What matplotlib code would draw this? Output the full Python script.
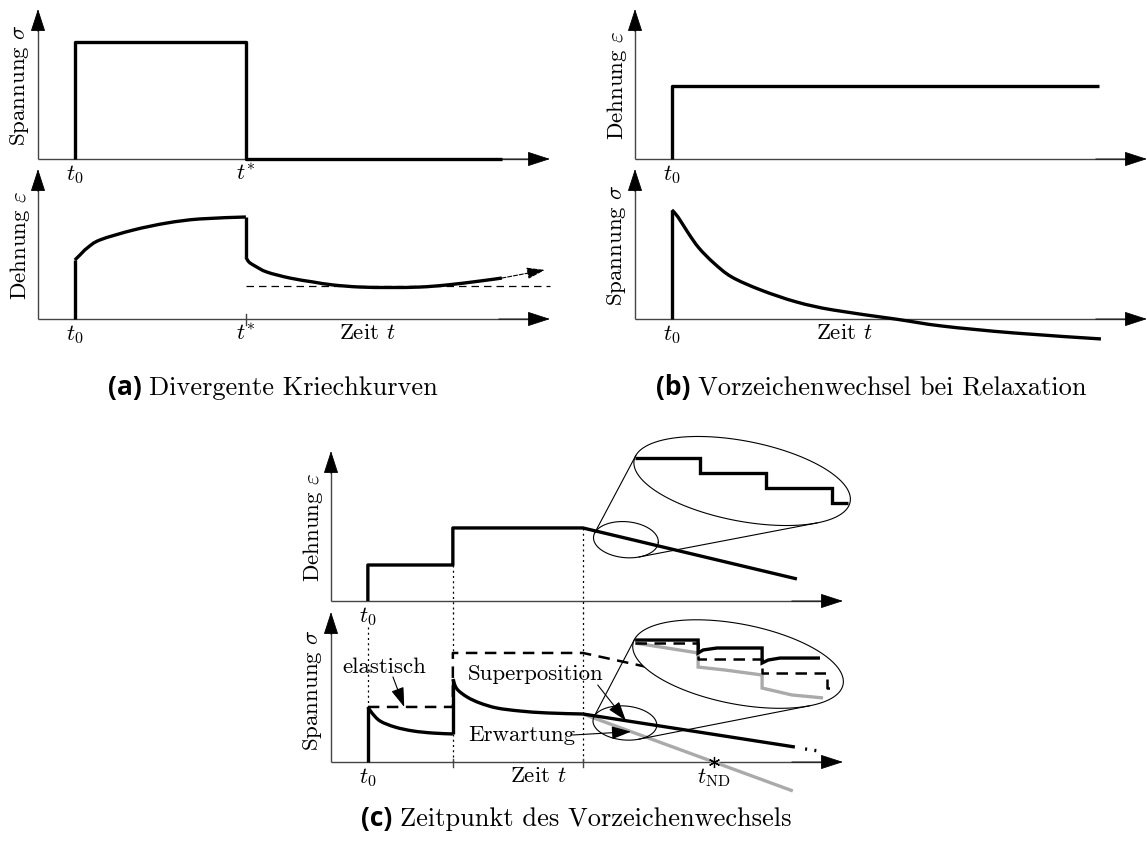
import numpy as np
import matplotlib
matplotlib.use("Agg")
import matplotlib.pyplot as plt
from matplotlib.path import Path
from matplotlib.patches import PathPatch

W, H = 1147, 841
plt.rcParams["mathtext.fontset"] = "cm"
plt.rcParams["font.family"] = "cmr10"
plt.rcParams["axes.formatter.use_mathtext"] = True

FS = 16.5        # axis labels
FS_CAP = 19      # sub-captions
LW = 2.4         # curves
AX_COLOR = "#444444"
GREY = "#aaaaaa"

# ---------------- data (schematic units) ----------------
# (a) creep under a rectangular stress pulse
a_t0, a_tstar, a_tend = 0.72, 4.06, 9.06
a_stress = 7.8
a_creep_t = [0.72, 0.82, 0.96, 1.21, 1.86, 2.52, 3.16, 4.06]
a_creep_eps = [3.93, 4.27, 4.73, 5.27, 5.93, 6.40, 6.67, 6.80]
a_recov_t = [4.06, 4.12, 4.24, 4.47, 4.92, 5.37, 5.76, 6.29, 6.88, 7.46, 7.99, 8.63, 9.06]
a_recov_eps = [4.13, 3.80, 3.53, 3.13, 2.73, 2.47, 2.27, 2.13, 2.10, 2.13, 2.27, 2.53, 2.73]
a_asymptote = 2.2
a_trend_t, a_trend_eps = 9.9, 3.27

# (b) relaxation under constant strain
b_t0, b_tend = 0.72, 9.06
b_strain = 4.87
b_relax_t = [0.72, 0.84, 1.04, 1.25, 1.54, 1.89, 2.46, 3.16, 3.87, 5.08, 6.0, 7.4, 9.1]
b_relax_sig = [7.27, 6.8, 5.73, 4.73, 3.73, 2.8, 1.93, 1.13, 0.6, 0.0, -0.47, -0.93, -1.33]

# (c) stepwise strain history and stress response
c_steps = [0.72, 2.38, 4.92]
c_strain_levels = [2.4, 4.87]
c_strain_end_t, c_strain_end = 9.1, 1.47
c_sig1_t = [0.72, 0.80, 0.96, 1.25, 1.60, 1.99, 2.38]
c_sig1 = [3.67, 3.27, 2.73, 2.33, 2.07, 1.93, 1.87]
c_sig2_t = [2.38, 2.46, 2.66, 2.91, 3.24, 3.69, 4.22, 4.92]
c_sig2 = [5.53, 4.87, 4.33, 3.93, 3.60, 3.40, 3.27, 3.20]
c_sup_t, c_sup = [4.92, 9.06], [3.20, 1.00]
c_sup_dots_t, c_sup_dots = [9.26, 9.55], [0.87, 0.72]
c_exp_t, c_exp = [4.92, 9.02], [3.20, -1.93]
c_el_t = [0.72, 2.38, 2.38, 4.92, 6.30]
c_el = [3.67, 3.67, 7.27, 7.27, 6.24]
# magnified views
c_zeps_t = [5.94, 7.21, 7.21, 8.50, 8.50, 9.79, 9.79, 10.10]
c_zeps = [9.53, 9.53, 8.53, 8.53, 7.53, 7.53, 6.53, 6.53]
c_zsup_t = [5.94, 7.17, 7.17, 7.27, 7.54, 8.42, 8.42, 8.54, 8.77, 9.55]
c_zsup = [8.13, 8.13, 7.27, 7.47, 7.60, 7.60, 6.60, 6.80, 6.93, 6.93]
c_zel_t = [5.94, 7.17, 7.17, 8.42, 8.42, 9.69, 9.69, 9.85]
c_zel = [7.93, 7.93, 6.87, 6.87, 5.93, 5.93, 4.93, 4.93]
c_zexp_t = [5.94, 6.43, 7.17, 7.17, 7.70, 8.42, 8.42, 9.00, 9.61]
c_zexp = [7.93, 7.67, 7.27, 6.33, 6.13, 5.80, 4.93, 4.47, 4.27]

# ---------------- helpers ----------------
fig = plt.figure(figsize=(W / 100, H / 100), dpi=100)


def make_axes(origin, box, sx=51.2, sy=15.0):
    ox, oy = origin
    l, t, r, b = box
    ax = fig.add_axes([l / W, 1 - b / H, (r - l) / W, (b - t) / H])
    ax.set_xlim((l - ox) / sx, (r - ox) / sx)
    ax.set_ylim((oy - b) / sy, (oy - t) / sy)
    ax.axis("off")
    return ax


def draw_frame(ax):
    ax.plot([0, 9.6], [0, 0], color=AX_COLOR, lw=1.0, solid_capstyle="butt", clip_on=False)
    ax.plot([0, 0], [0, 9.6], color=AX_COLOR, lw=1.0, solid_capstyle="butt", clip_on=False)
    kw = dict(arrowstyle="-|>,head_length=1.45,head_width=0.47", color="black",
              lw=0.6, shrinkA=0, shrinkB=0, mutation_scale=10)
    ax.annotate("", xy=(10, 0), xytext=(9.0, 0), arrowprops=kw, annotation_clip=False)
    ax.annotate("", xy=(0, 10), xytext=(0, 8.5), arrowprops=kw, annotation_clip=False)


def ylabel(ax, text, y=4.93):
    ax.text(-0.36, y, text, rotation=90, ha="center", va="center", fontsize=FS)


def xtick_label(ax, x, text, dy=-0.3):
    ax.text(x, dy, text, ha="center", va="top", fontsize=FS)


def curve(ax, x, y, **kw):
    style = dict(color="black", lw=LW, solid_joinstyle="round", solid_capstyle="butt",
                 clip_on=False)
    style.update(kw)
    ax.plot(x, y, **style)


def px_scale(ax):
    p0 = ax.transData.transform((0, 0))
    p1 = ax.transData.transform((1, 1))
    return p1[0] - p0[0], p1[1] - p0[1]


def smooth(ax, x, y, color="black", lw=LW, zorder=3):
    """Draw a smooth Bezier path through the given points (Catmull-Rom tangents)."""
    sx, sy = px_scale(ax)
    q = np.column_stack([x, y]).astype(float) * [sx, sy]
    n = len(q)
    verts, codes = [q[0]], [Path.MOVETO]
    for i in range(n - 1):
        pm = q[i - 1] if i > 0 else q[i]
        pp = q[i + 2] if i + 2 < n else q[i + 1]
        c1 = q[i] + (q[i + 1] - pm) / 6
        c2 = q[i + 1] - (pp - q[i]) / 6
        verts += [c1, c2, q[i + 1]]
        codes += [Path.CURVE4] * 3
    verts = np.array(verts) / [sx, sy]
    ax.add_patch(PathPatch(Path(verts, codes), fill=False, edgecolor=color, lw=lw,
                           capstyle="butt", joinstyle="round", clip_on=False, zorder=zorder))


def ellipse_xy(ax, center, a, b, ang, n=360):
    sx, sy = px_scale(ax)
    th = np.linspace(0, 2 * np.pi, n)
    ex, ey = a * np.cos(th), b * np.sin(th)
    r = np.deg2rad(ang)
    xr = ex * np.cos(r) - ey * np.sin(r)
    yr = ex * np.sin(r) + ey * np.cos(r)
    return center[0] + xr / sx, center[1] + yr / sy


def hull_bridges(p, q):
    pts = [(x, y, 0) for x, y in zip(*p)] + [(x, y, 1) for x, y in zip(*q)]
    pts.sort(key=lambda r: (r[0], r[1]))

    def cross(o, a, b):
        return (a[0] - o[0]) * (b[1] - o[1]) - (a[1] - o[1]) * (b[0] - o[0])

    lower, upper = [], []
    for pt in pts:
        while len(lower) >= 2 and cross(lower[-2], lower[-1], pt) <= 0:
            lower.pop()
        lower.append(pt)
    for pt in reversed(pts):
        while len(upper) >= 2 and cross(upper[-2], upper[-1], pt) <= 0:
            upper.pop()
        upper.append(pt)
    hull = lower[:-1] + upper[:-1]
    out = []
    for i in range(len(hull)):
        u, v = hull[i], hull[(i + 1) % len(hull)]
        if u[2] != v[2]:
            out.append(((u[0], v[0]), (u[1], v[1])))
    return out


def magnifier(ax, small, big):
    (sc, sa, sb, sang), (bc, ba, bb, bang) = small, big
    p = ellipse_xy(ax, sc, sa, sb, sang)
    q = ellipse_xy(ax, bc, ba, bb, bang)
    ax.fill(q[0], q[1], facecolor="white", edgecolor="black", lw=0.8, zorder=4, clip_on=False)
    ax.plot(p[0], p[1], color="black", lw=0.8, zorder=4, clip_on=False)
    for xs, ys in hull_bridges(p, q):
        ax.plot(xs, ys, color="black", lw=0.8, zorder=4, clip_on=False)


def arrow(ax, start, tip, lw=0.8, ls="-", hl=1.2, hw=0.4):
    ax.annotate("", xy=tip, xytext=start, annotation_clip=False,
                arrowprops=dict(arrowstyle=f"-|>,head_length={hl},head_width={hw}",
                                color="black", lw=lw, ls=ls, shrinkA=0, shrinkB=0,
                                mutation_scale=10), zorder=6)


def caption(xc, yb, tag, text):
    t1 = fig.text(0, 0, tag, fontfamily="Open Sans", fontweight="bold",
                  fontsize=FS_CAP, va="baseline")
    t2 = fig.text(0, 0, text, fontsize=FS_CAP, va="baseline")
    rend = fig.canvas.get_renderer()
    w1 = t1.get_window_extent(rend).width
    w2 = t2.get_window_extent(rend).width
    gap = 0.28 * FS_CAP * 100 / 72
    x0 = xc - (w1 + gap + w2) / 2
    t1.set_position((x0 / W, 1 - yb / H))
    t2.set_position(((x0 + w1 + gap) / W, 1 - yb / H))


DOT = dict(color="black", lw=0.9, ls=(0, (1.6, 2.6)), clip_on=False)

# ---------------- (a) ----------------
ax = make_axes((38, 159), (0, 0, 560, 165))
draw_frame(ax)
curve(ax, [a_t0, a_t0, a_tstar, a_tstar, a_tend], [0, a_stress, a_stress, 0, 0])
ylabel(ax, r"Spannung $\sigma$")
xtick_label(ax, a_t0, r"$t_0$")
xtick_label(ax, a_tstar, r"$t^{*}$")

ax = make_axes((38, 319), (0, 165, 560, 350))
draw_frame(ax)
curve(ax, [a_t0, a_t0], [0, a_creep_eps[0]])
smooth(ax, a_creep_t, a_creep_eps)
curve(ax, [a_tstar, a_tstar], [a_creep_eps[-1], a_recov_eps[0]])
smooth(ax, a_recov_t, a_recov_eps)
ax.plot([a_tstar, 10], [a_asymptote] * 2, color="black", lw=0.9, ls=(0, (6, 4)), clip_on=False)
arrow(ax, (a_recov_t[-1], a_recov_eps[-1]), (a_trend_t, a_trend_eps), lw=0.8, ls="--", hl=1.1, hw=0.35)
ax.plot([a_tstar] * 2, [-0.4, 0.35], color=AX_COLOR, lw=1.0)
ylabel(ax, r"Dehnung $\varepsilon$")
xtick_label(ax, a_t0, r"$t_0$")
xtick_label(ax, a_tstar, r"$t^{*}$")
ax.text(6.43, -0.3, r"Zeit $t$", ha="center", va="top", fontsize=FS)

# ---------------- (b) ----------------
ax = make_axes((635, 159), (580, 0, 1147, 165))
draw_frame(ax)
curve(ax, [b_t0, b_t0, b_tend], [0, b_strain, b_strain])
ylabel(ax, r"Dehnung $\varepsilon$")
xtick_label(ax, b_t0, r"$t_0$")

ax = make_axes((635, 319), (580, 165, 1147, 350))
draw_frame(ax)
curve(ax, [b_t0, b_t0], [0, b_relax_sig[0]])
smooth(ax, b_relax_t, b_relax_sig)
ylabel(ax, r"Spannung $\sigma$")
xtick_label(ax, b_t0, r"$t_0$")
ax.text(4.08, -0.3, r"Zeit $t$", ha="center", va="top", fontsize=FS)

caption(273, 395, "(a)", "Divergente Kriechkurven")
caption(871, 395, "(b)", "Vorzeichenwechsel bei Relaxation")

# ---------------- (c) top: strain ----------------
ax = make_axes((331, 601), (280, 430, 860, 615))
draw_frame(ax)
t0, t1, t2 = c_steps
curve(ax, [t0, t0, t1, t1, t2, c_strain_end_t],
      [0, c_strain_levels[0], c_strain_levels[0], c_strain_levels[1], c_strain_levels[1], c_strain_end])
ax.plot([t1, t1], [c_strain_levels[0], -0.8], **DOT)
ax.plot([t2, t2], [c_strain_levels[1], -0.8], **DOT)
ylabel(ax, r"Dehnung $\varepsilon$")
xtick_label(ax, t0, r"$t_0$")
slope_x = 5.76
slope_y = np.interp(slope_x, [t2, c_strain_end_t], [c_strain_levels[1], c_strain_end])
magnifier(ax, ((slope_x, slope_y - 0.1), 32.5, 18, -5), ((8.03, 8.0), 110, 40, -11))
curve(ax, c_zeps_t, c_zeps, zorder=5, solid_joinstyle="miter")

# ---------------- (c) bottom: stress ----------------
ax = make_axes((331, 762), (280, 612, 860, 800))
draw_frame(ax)
curve(ax, [t0, t0], [0, c_sig1[0]])
smooth(ax, c_sig1_t, c_sig1)
curve(ax, [c_sig1_t[-1], c_sig2_t[0]], [c_sig1[-1], c_sig2[0]])
smooth(ax, c_sig2_t, c_sig2)
curve(ax, c_exp_t, c_exp, color=GREY, zorder=2)
curve(ax, c_sup_t, c_sup, zorder=3)
ax.plot(c_sup_dots_t, c_sup_dots, color="black", lw=LW, ls=(0, (0.6, 2.2)),
        dash_capstyle="butt", clip_on=False)
ax.plot(c_el_t, c_el, color="black", lw=1.8, ls=(0, (4.6, 3.0)), clip_on=False, zorder=2)
ax.plot([t0, t0], [9.0, c_sig1[0]], **DOT)
ax.plot([t1, t1], [10.0, c_el[2]], **DOT)
ax.plot([t1, t1], [c_sig1[-1], 0], **DOT)
ax.plot([t2, t2], [10.0, 0], **DOT)
for tx in (t1, t2):
    ax.plot([tx, tx], [-0.33, 0.2], color=AX_COLOR, lw=1.0)
t_nd = np.interp(0.0, c_exp[::-1], c_exp_t[::-1])
ax.plot([t_nd], [0], marker=(6, 2, 0), ms=8, mew=0.9, color="black", zorder=6)

magnifier(ax, ((5.74, 2.6), 32, 17, -5), ((7.95, 6.53), 107, 40, -11))
curve(ax, c_zexp_t, c_zexp, color=GREY, zorder=5, solid_joinstyle="miter")
ax.plot(c_zel_t, c_zel, color="black", lw=1.8, ls=(0, (4.6, 3.0)), zorder=5, clip_on=False)
curve(ax, c_zsup_t, c_zsup, zorder=6, solid_joinstyle="miter")

ylabel(ax, r"Spannung $\sigma$", y=4.8)
xtick_label(ax, t0, r"$t_0$")
xtick_label(ax, t_nd, r"$t_{\mathrm{ND}}$")
ax.text(4.04, -0.3, r"Zeit $t$", ha="center", va="top", fontsize=FS)

ax.text(1.05, 6.33, "elastisch", ha="center", va="center", fontsize=FS)
arrow(ax, (1.21, 5.67), (1.43, c_el[0]))
ax.text(2.68, 5.87, "Superposition", ha="left", va="center", fontsize=FS)
x_s = 5.76
arrow(ax, (5.21, 5.13), (x_s, np.interp(x_s, c_sup_t, c_sup)))
ax.text(2.68, 1.8, "Erwartung", ha="left", va="center", fontsize=FS)
x_e = 5.86
arrow(ax, (4.72, 1.8), (x_e, np.interp(x_e, c_exp_t, c_exp)))

caption(576, 826, "(c)", "Zeitpunkt des Vorzeichenwechsels")

fig.savefig("out.png", dpi=100)
